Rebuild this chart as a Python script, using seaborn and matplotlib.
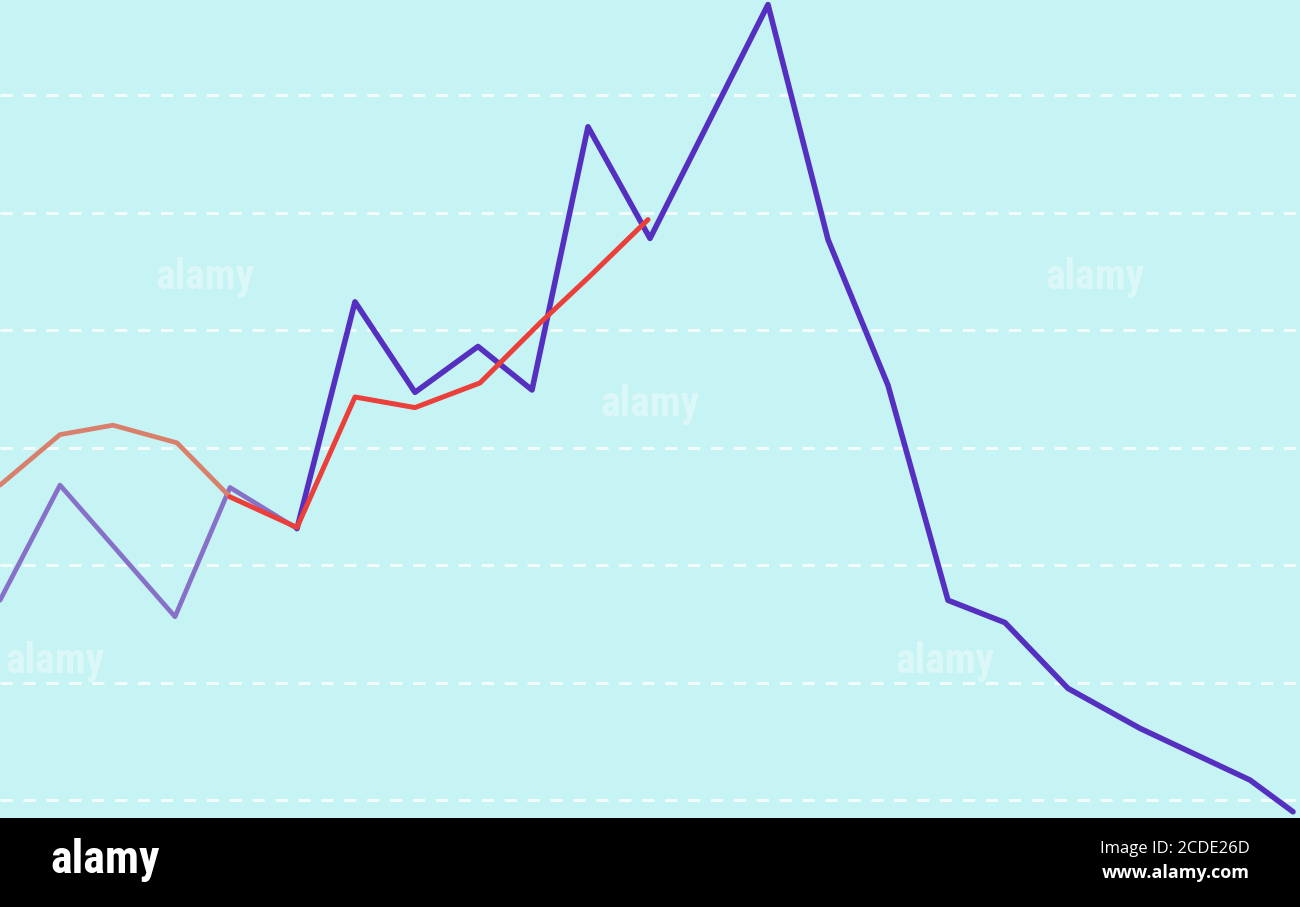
import numpy as np
import pandas as pd
import matplotlib
matplotlib.use("Agg")
import matplotlib.pyplot as plt
from matplotlib import font_manager
import seaborn as sns

# blue (long) series
blue_x = [0, 60, 175, 230, 297, 355, 415, 478, 532, 588, 650, 768, 828, 888,
          948, 1005, 1068, 1140, 1250, 1293]
blue_y = [17.0, 26.8, 15.6, 26.6, 23.1, 42.4, 34.7, 38.6, 34.9, 57.3, 47.8,
          67.7, 47.7, 35.3, 17.0, 15.1, 9.5, 6.1, 1.7, -1.0]

# red (short) series
red_x = [0, 60, 113, 177, 230, 297, 355, 415, 480, 540, 590, 648]
red_y = [26.8, 31.1, 31.9, 30.4, 25.8, 23.2, 34.3, 33.4, 35.5, 40.6, 44.6, 49.4]

grid_levels = [0, 10, 20, 30, 40, 50, 60]

bg = "#c6f3f3"

# a condensed bold face for the logo, if one is around
names = {f.name for f in font_manager.fontManager.ttflist}
logo_family = "DejaVu Sans"
for cand in ["Liberation Sans Narrow", "Roboto Condensed", "Open Sans Condensed",
             "Noto Sans Condensed", "DejaVu Sans Condensed"]:
    if cand in names:
        logo_family = cand
        break

sns.set_style("white")
fig = plt.figure(figsize=(13, 9.07), dpi=100)
fig.patch.set_facecolor("black")
ax = fig.add_axes([0, 89 / 907, 1, 818 / 907])
ax.set_facecolor(bg)

for g in grid_levels:
    ax.axhline(g, color="white", lw=2.2, ls=(0, (4, 3.5)), alpha=0.8, zorder=1)

blue = pd.DataFrame({"x": blue_x, "y": blue_y})
red = pd.DataFrame({"x": red_x, "y": red_y})

# faded left parts (scan looks washed out there)
sns.lineplot(data=blue[blue.x <= 297], x="x", y="y", sort=False, estimator=None,
             color="#8770c8", lw=3.4, ax=ax, zorder=3)
sns.lineplot(data=blue[blue.x >= 297], x="x", y="y", sort=False, estimator=None,
             color="#5530c0", lw=4.0, ax=ax, zorder=3)
sns.lineplot(data=red[red.x <= 230], x="x", y="y", sort=False, estimator=None,
             color="#d9806c", lw=3.4, ax=ax, zorder=4)
sns.lineplot(data=red[red.x >= 230], x="x", y="y", sort=False, estimator=None,
             color="#ea3f3a", lw=3.6, ax=ax, zorder=4)

ax.set_xlim(0, 1300)
ax.set_ylim(-1.53, 68.09)
ax.set_xlabel("")
ax.set_ylabel("")
ax.set_xticks([])
ax.set_yticks([])
for s in ax.spines.values():
    s.set_visible(False)

# faint watermarks
for wx, wy in [(205, 44.5), (650, 33.7), (1095, 44.5), (55, 11.8), (945, 11.8)]:
    ax.text(wx, wy, "alamy", color="white", alpha=0.4, fontsize=30,
            fontweight="bold", family=logo_family, fontstretch="condensed",
            ha="center", va="center", zorder=2)

# bottom banner
fig.text(50 / 1300, 1 - 860 / 907, "alamy", color="white", fontsize=33,
         fontweight="bold", family=logo_family, fontstretch="condensed",
         ha="left", va="center")
fig.text(1250 / 1300, 1 - 849 / 907, "Image ID: 2CDE26D", color="white",
         fontsize=12, family="Open Sans", ha="right", va="center")
fig.text(1250 / 1300, 1 - 873 / 907, "www.alamy.com", color="white",
         fontsize=13, fontweight="bold", family="Open Sans", ha="right", va="center")

fig.savefig("out.png", dpi=100, facecolor="black")
